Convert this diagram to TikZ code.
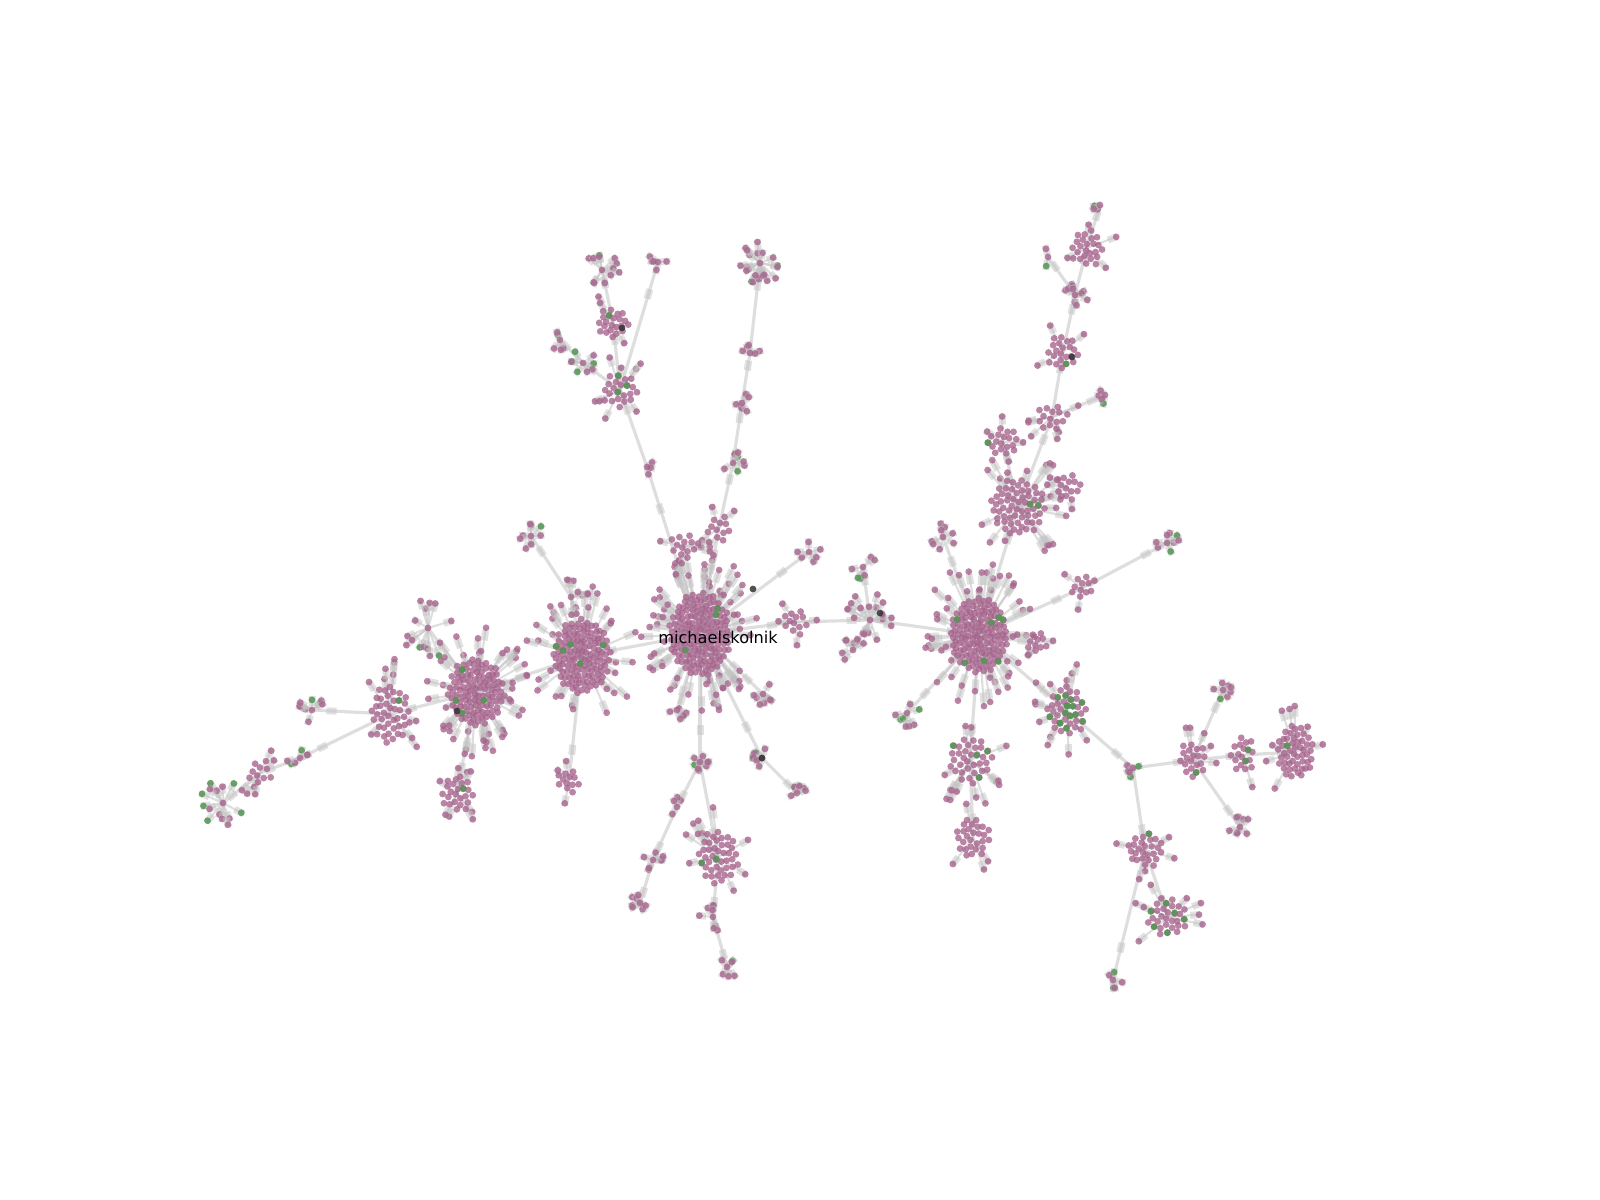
\documentclass[tikz,border=0pt]{standalone}
\usepackage{fontspec}
\newfontfamily\labfont{DejaVu Sans}
\definecolor{mauve}{RGB}{166,98,140}
\definecolor{leaf}{RGB}{82,150,82}
\definecolor{darknode}{RGB}{50,50,50}
\definecolor{edgegray}{RGB}{195,195,195}

\def\nr{0.034cm}

% dense blob: centre, nodes, x radius, y radius, green nodes, spokes
\newcommand\cluster[6]{%
  \begin{scope}[shift={(#1)}]
    \foreach \k in {1,...,#6}{%
      \pgfmathsetmacro\ang{360*rnd}%
      \pgfmathsetmacro\rr{1.15+0.8*rnd}%
      \pgfmathsetmacro\px{\rr*#3*cos(\ang)}%
      \pgfmathsetmacro\py{\rr*#4*sin(\ang)}%
      \draw[spoke] (\px,\py) -- node[tipbox]{} (0,0);
      \fill[pnode] (\px,\py) circle (\nr);
    }
    \foreach \k in {1,...,#2}{%
      \pgfmathsetmacro\ang{360*mod(\k*0.381966,1)}%
      \pgfmathsetmacro\rr{sqrt((\k-0.5)/#2)}%
      \fill[pnode] ({\rr*#3*cos(\ang)+1.6*rnd-0.8},{\rr*#4*sin(\ang)+1.6*rnd-0.8}) circle (\nr);
    }
    \ifnum#5>0
    \foreach \k in {1,...,#5}{%
      \pgfmathsetmacro\j{int(1+rnd*(#2-1))}%
      \pgfmathsetmacro\ang{360*mod(\j*0.381966,1)}%
      \pgfmathsetmacro\rr{sqrt((\j-0.5)/#2)}%
      \fill[gnode] ({\rr*#3*cos(\ang)},{\rr*#4*sin(\ang)}) circle (\nr);
    }
    \fi
  \end{scope}}

% small fan: centre, leaves, radius, green leaves
\newcommand\tuft[4]{%
  \begin{scope}[shift={(#1)}]
    \foreach \k in {1,...,#2}{%
      \pgfmathsetmacro\ang{360*rnd}%
      \pgfmathsetmacro\rr{#3*(0.45+0.55*rnd)}%
      \pgfmathsetmacro\px{\rr*cos(\ang)}%
      \pgfmathsetmacro\py{\rr*sin(\ang)}%
      \draw[spoke] (\px,\py) -- node[tipbox]{} (0,0);
      \ifnum\k>#4 \fill[pnode] (\px,\py) circle (\nr);
      \else \fill[gnode] (\px,\py) circle (\nr);
      \fi
    }
    \fill[pnode] (0,0) circle (\nr);
  \end{scope}}

\begin{document}
\begin{tikzpicture}
[link/.style={draw=edgegray,line width=0.9pt,draw opacity=0.55}
,spoke/.style={draw=edgegray,line width=0.6pt,draw opacity=0.55}
,tipbox/.style={rectangle,fill=edgegray,fill opacity=0.5,minimum width=0.1cm,minimum height=0.07cm,inner sep=0pt,sloped,pos=0.12}
,pnode/.style={fill=mauve,fill opacity=0.78}
,gnode/.style={fill=leaf,fill opacity=0.85}
,dnode/.style={fill=darknode,fill opacity=0.85}
,x=0.01cm,y=-0.01cm]
\useasboundingbox (0,0) rectangle (1600,1200);
\pgfmathsetseed{4}

% hubs
\coordinate (M) at (700,634);
\coordinate (A) at (582,656);
\coordinate (B) at (476,692);
\coordinate (C) at (390,714);
\coordinate (Cl) at (312,710);
\coordinate (Cs) at (300,758);
\coordinate (D) at (260,773);
\coordinate (Dl) at (223,803);
\coordinate (Bs) at (457,793);
\coordinate (Bf) at (428,628);
\coordinate (As) at (569,781);
\coordinate (An) at (571,597);
\coordinate (Aw) at (531,536);
\coordinate (Mt) at (647,467);
\coordinate (T1) at (620,390);
\coordinate (T2) at (613,323);
\coordinate (T3) at (602,270);
\coordinate (T4) at (658,262);
\coordinate (T5) at (583,363);
\coordinate (T6) at (560,340);
\coordinate (W1) at (760,263);
\coordinate (W2) at (750,353);
\coordinate (W3) at (742,403);
\coordinate (W4) at (733,463);
\coordinate (W5) at (719,528);
\coordinate (Mn) at (684,546);
\coordinate (Me) at (796,622);
\coordinate (Mne) at (809,552);
\coordinate (N) at (870,620);
\coordinate (Nn) at (863,567);
\coordinate (Ns) at (853,650);
\coordinate (E) at (979,635);
\coordinate (F) at (1018,507);
\coordinate (Fa) at (1003,442);
\coordinate (Fb) at (1068,487);
\coordinate (U1) at (1052,417);
\coordinate (U1e) at (1105,395);
\coordinate (U2) at (1063,352);
\coordinate (U3) at (1075,295);
\coordinate (U3w) at (1048,257);
\coordinate (U4) at (1087,248);
\coordinate (U5) at (1100,205);
\coordinate (Ea) at (1082,588);
\coordinate (Eb) at (1167,543);
\coordinate (Ec) at (1037,643);
\coordinate (Ed) at (943,537);
\coordinate (Ef) at (907,713);
\coordinate (G) at (1067,711);
\coordinate (J) at (1133,768);
\coordinate (K) at (1193,760);
\coordinate (L) at (1243,755);
\coordinate (P) at (1295,752);
\coordinate (Kn) at (1223,690);
\coordinate (Ks) at (1240,827);
\coordinate (Q) at (1145,850);
\coordinate (R) at (1168,917);
\coordinate (Qs) at (1113,980);
\coordinate (H) at (970,760);
\coordinate (I) at (973,838);
\coordinate (S1) at (700,762);
\coordinate (S) at (718,857);
\coordinate (S2) at (713,917);
\coordinate (S3) at (727,967);
\coordinate (S4) at (677,807);
\coordinate (S5) at (653,860);
\coordinate (S6) at (640,903);
\coordinate (Mx) at (762,758);
\coordinate (My) at (797,793);
\coordinate (Mz) at (763,694);
\coordinate (Mw) at (677,710);

% links between hubs
\foreach \c/\p in {A/M,B/A,C/B,Cl/C,Cs/C,D/Cs,Dl/D,Bs/B,Bf/B,As/A,An/A,Aw/An,
  Mt/M,T1/Mt,T2/T1,T3/T2,T4/T1,T5/T1,T6/T5,W5/M,W4/W5,W3/W4,W2/W3,W1/W2,
  Mn/M,Me/M,Mne/M,N/Me,Nn/N,Ns/N,E/N,F/E,Fa/F,Fb/F,U1/F,U1e/U1,U2/U1,U3/U2,
  U3w/U3,U4/U3,U5/U4,Ea/E,Eb/Ea,Ec/E,Ed/E,Ef/E,G/E,J/G,K/J,L/K,P/L,Kn/K,Ks/K,
  Q/J,R/Q,Qs/Q,H/E,I/H,S1/M,S/S1,S2/S,S3/S2,S4/S1,S5/S4,S6/S5,Mx/M,My/Mx,
  Mz/M,Mw/M}
  \draw[link] (\c) -- node[tipbox,pos=0.25]{} (\p);

% blobs and fans
\cluster{M}{155}{31}{42}{3}{70}
\cluster{A}{130}{29}{37}{5}{30}
\cluster{B}{110}{28}{34}{5}{45}
\cluster{C}{42}{20}{30}{1}{10}
\tuft{Cl}{9}{14}{1}
\tuft{Cs}{6}{14}{2}
\cluster{D}{10}{13}{13}{0}{6}
\tuft{Dl}{14}{24}{6}
\cluster{Bs}{24}{17}{18}{1}{8}
\tuft{Bf}{14}{30}{2}
\cluster{As}{12}{12}{12}{0}{3}
\tuft{An}{10}{18}{0}
\tuft{Aw}{8}{16}{1}
\tuft{Mt}{3}{8}{0}
\cluster{T1}{22}{18}{18}{3}{8}
\cluster{T2}{22}{16}{16}{1}{3}
\tuft{T3}{12}{18}{1}
\tuft{T4}{5}{10}{0}
\tuft{T5}{8}{14}{4}
\tuft{T6}{5}{12}{1}
\tuft{W1}{22}{22}{3}
\tuft{W2}{5}{10}{0}
\tuft{W3}{6}{10}{0}
\tuft{W4}{8}{12}{3}
\cluster{W5}{11}{13}{13}{0}{4}
\cluster{Mn}{13}{14}{14}{0}{5}
\cluster{Me}{12}{13}{13}{0}{4}
\tuft{Mne}{6}{12}{0}
\tuft{N}{20}{28}{0}
\tuft{Nn}{6}{14}{2}
\tuft{Ns}{8}{14}{0}
\cluster{E}{135}{29}{38}{7}{50}
\cluster{F}{62}{28}{28}{2}{20}
\cluster{Fa}{18}{16}{15}{1}{4}
\cluster{Fb}{14}{14}{15}{0}{3}
\cluster{U1}{14}{16}{14}{0}{6}
\tuft{U1e}{4}{10}{1}
\cluster{U2}{22}{16}{18}{1}{3}
\tuft{U3}{10}{14}{0}
\tuft{U3w}{2}{10}{1}
\cluster{U4}{24}{17}{18}{0}{4}
\tuft{U5}{3}{10}{1}
\cluster{Ea}{10}{12}{12}{0}{3}
\tuft{Eb}{8}{14}{2}
\cluster{Ec}{10}{11}{11}{0}{3}
\tuft{Ed}{8}{14}{0}
\tuft{Ef}{8}{14}{3}
\cluster{G}{38}{20}{25}{15}{12}
\tuft{J}{5}{10}{2}
\cluster{K}{20}{14}{18}{1}{5}
\cluster{L}{18}{12}{20}{2}{1}
\cluster{P}{50}{19}{27}{1}{8}
\tuft{Kn}{7}{12}{1}
\tuft{Ks}{8}{12}{0}
\cluster{Q}{26}{18}{18}{1}{5}
\cluster{R}{30}{20}{20}{6}{8}
\tuft{Qs}{5}{10}{2}
\cluster{H}{34}{22}{24}{4}{14}
\cluster{I}{28}{18}{20}{0}{4}
\tuft{S1}{8}{12}{1}
\cluster{S}{42}{20}{27}{2}{10}
\tuft{S2}{8}{14}{0}
\tuft{S3}{6}{12}{1}
\tuft{S4}{4}{10}{0}
\tuft{S5}{7}{12}{0}
\tuft{S6}{7}{12}{0}
\tuft{Mx}{7}{12}{2}
\tuft{My}{7}{12}{1}
\tuft{Mz}{8}{12}{0}
\tuft{Mw}{5}{10}{1}

% dark nodes
\foreach \d in {(753,589),(880,613),(622,328),(1072,357),(762,758),(457,711)}
  \fill[dnode] \d circle (\nr);

\node[font={\labfont\fontsize{4.6}{5.5}\selectfont},inner sep=0pt] (lab) at (718,637) {michaelskolnik};
\end{tikzpicture}
\end{document}
